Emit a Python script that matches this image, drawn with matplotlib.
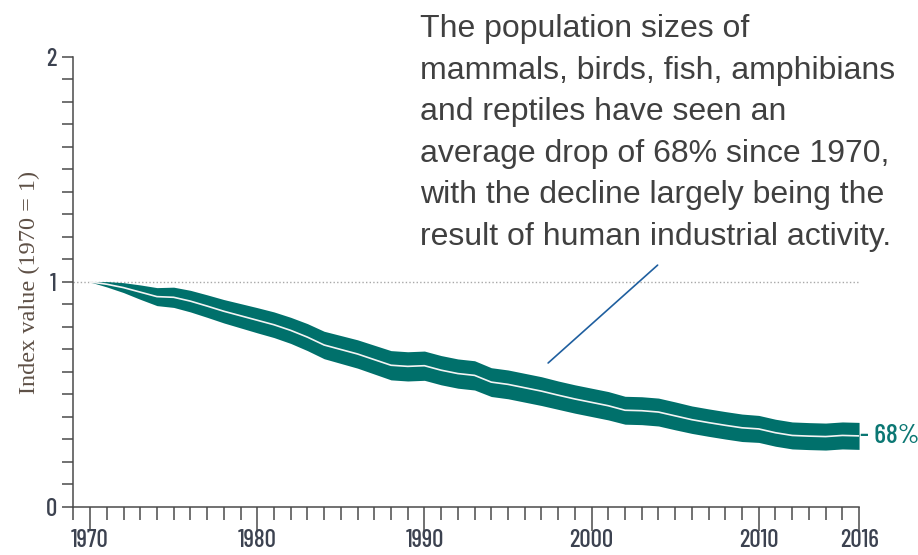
import matplotlib
matplotlib.use("Agg")
import matplotlib.pyplot as plt
from matplotlib.ticker import MultipleLocator, FixedLocator

# Living Planet Index, global, 1970 = 1
years = list(range(1970, 2017))
index = [1.000, 0.990, 0.975, 0.955, 0.935, 0.932, 0.915, 0.893, 0.870, 0.850,
         0.830, 0.810, 0.785, 0.755, 0.720, 0.700, 0.680, 0.655, 0.630, 0.625,
         0.628, 0.608, 0.593, 0.585, 0.555, 0.545, 0.530, 0.515, 0.497, 0.480,
         0.465, 0.450, 0.430, 0.428, 0.422, 0.405, 0.388, 0.375, 0.363, 0.352,
         0.347, 0.330, 0.318, 0.315, 0.313, 0.318, 0.316]
lower = [1.000, 0.978, 0.953, 0.923, 0.895, 0.887, 0.867, 0.843, 0.818, 0.796,
         0.774, 0.753, 0.727, 0.695, 0.659, 0.638, 0.617, 0.591, 0.565, 0.560,
         0.563, 0.543, 0.528, 0.520, 0.491, 0.481, 0.466, 0.451, 0.434, 0.417,
         0.402, 0.387, 0.368, 0.366, 0.360, 0.343, 0.327, 0.314, 0.302, 0.291,
         0.287, 0.270, 0.258, 0.255, 0.253, 0.258, 0.256]
upper = [1.000, 1.002, 0.997, 0.987, 0.975, 0.977, 0.963, 0.943, 0.922, 0.904,
         0.886, 0.867, 0.843, 0.815, 0.781, 0.762, 0.743, 0.719, 0.695, 0.690,
         0.693, 0.673, 0.658, 0.650, 0.619, 0.609, 0.594, 0.579, 0.560, 0.543,
         0.528, 0.513, 0.492, 0.490, 0.484, 0.467, 0.449, 0.436, 0.424, 0.413,
         0.407, 0.390, 0.378, 0.375, 0.373, 0.378, 0.376]

year_labels = [1970, 1980, 1990, 2000, 2010, 2016]

note = ("The population sizes of\n"
        "mammals, birds, fish, amphibians\n"
        "and reptiles have seen an\n"
        "average drop of 68% since 1970,\n"
        "with the decline largely being the\n"
        "result of human industrial activity.")

teal = "#00706b"
axis_col = "#4a4a4a"
label_col = "#3c4250"
narrow = ["Barlow Condensed", "Roboto Condensed", "DejaVu Sans"]

fig = plt.figure(figsize=(9.18, 5.55), dpi=100)
ax = fig.add_axes([0.0799, 0.0865, 0.8559, 0.8108])

x_left = 1969.0

# baseline at the 1970 level
ax.plot([x_left, years[-1]], [1, 1], color="#a8a8a8", lw=1, ls=(0, (1, 1.6)))

ax.fill_between(years, lower, upper, color=teal, lw=0, zorder=2)
ax.plot(years, index, color="#f4f4f4", lw=1.2, zorder=3)

ax.set_xlim(x_left, years[-1])
ax.set_ylim(0, 2)

for side in ["top", "right"]:
    ax.spines[side].set_visible(False)
for side in ["left", "bottom"]:
    ax.spines[side].set_color(axis_col)
    ax.spines[side].set_linewidth(1.1)

ax.xaxis.set_major_locator(FixedLocator(year_labels))
ax.xaxis.set_minor_locator(MultipleLocator(1))
ax.set_xticklabels([str(y) for y in year_labels])
ax.tick_params(axis="x", which="major", length=17, width=1.1, color=axis_col,
               labelsize=18, labelcolor=label_col, pad=-1)
ax.tick_params(axis="x", which="minor", length=9, width=1.1, color=axis_col)

ax.yaxis.set_major_locator(FixedLocator([0, 1, 2]))
ax.yaxis.set_minor_locator(MultipleLocator(0.1))
ax.set_yticklabels(["0", "1", "2"])
ax.tick_params(axis="y", which="both", length=8, width=1.1, color=axis_col,
               labelsize=18, labelcolor=label_col, pad=4)
for lbl in ax.get_xticklabels() + ax.get_yticklabels():
    lbl.set_family(narrow)
    lbl.set_fontweight("medium")

ax.set_ylabel("Index value (1970 = 1)", family=["Liberation Serif", "DejaVu Serif"],
              fontsize=17.5, color="#5e5046", labelpad=4)

change = round((1 - index[-1]) * 100)
ax.annotate(f"- {change}%", xy=(years[-1], index[-1]), xytext=(1, 0),
            textcoords="offset points", va="center", ha="left",
            family=narrow, fontsize=20, fontweight="medium", color="#0b7773",
            annotation_clip=False)

# callout line up to the note
ax.annotate("", xy=(1997.4, 0.64), xytext=(2003.95, 1.075),
            arrowprops=dict(arrowstyle="-", color="#1f5f9f", lw=1.2,
                            shrinkA=0, shrinkB=0),
            annotation_clip=False)

fig.text(0.4575, 0.974, note, ha="left", va="top", fontsize=23,
         family=["Liberation Sans", "DejaVu Sans"], color="#404040",
         linespacing=1.5)

fig.savefig("out.png", dpi=100)
